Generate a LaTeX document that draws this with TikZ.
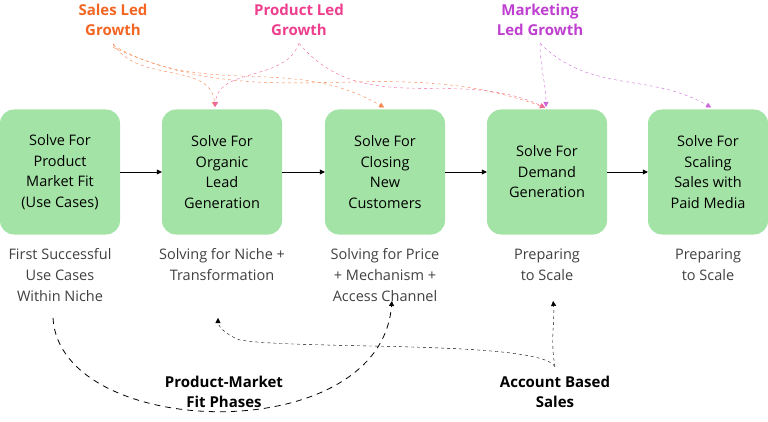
\documentclass[tikz,border=0pt]{standalone}
\usepackage{fontspec}
\setmainfont{Open Sans}
\usetikzlibrary{positioning, arrows.meta}
\definecolor{boxgreen}{HTML}{A4E3A6}
\definecolor{slgorange}{HTML}{F26522}
\definecolor{plgpink}{HTML}{EE3E8E}
\definecolor{mlgpurple}{HTML}{BF3FD0}
\tikzset{>={Triangle[length=5pt,width=5pt]}}
\begin{document}
\begin{tikzpicture}[x=1pt,y=-1pt,
    phase/.style={fill=boxgreen,rounded corners=14pt,minimum width=120pt,minimum height=125pt,align=center,font=\fontsize{14.5}{20.5}\selectfont},
    note/.style={align=center,text=black!75,font=\fontsize{14.5}{21}\selectfont},
    head/.style={align=center,font=\fontsize{15}{20}\selectfont\bfseries},
    link/.style={->,dashed,shorten >=1pt}]
\useasboundingbox (0,0) rectangle (768,422);
\node[phase] (b1) at (60,172) {Solve For\\Product\\Market Fit\\(Use Cases)};
\node[phase] (b2) at (222,172) {Solve For\\Organic\\Lead\\Generation};
\node[phase] (b3) at (385,172) {Solve For\\Closing\\New\\Customers};
\node[phase] (b4) at (547,172) {Solve For\\Demand\\Generation};
\node[phase] (b5) at (708,172) {Solve For\\Scaling\\Sales with\\Paid Media};
\foreach \a/\b in {b1/b2,b2/b3,b3/b4,b4/b5}
  \draw[->] (\a) -- (\b);
% descriptions
\node[note] (d1) at (60,275) {First Successful\\Use Cases\\Within Niche};
\node[note] (d2) at (222,265) {Solving for Niche +\\Transformation};
\node[note] (d3) at (385,275) {Solving for Price\\+ Mechanism +\\Access Channel};
\node[note] (d4) at (547,265) {Preparing\\to Scale};
\node[note] (d5) at (708,265) {Preparing\\to Scale};
% growth models
\node[head,text=slgorange] (slg) at (113,20) {Sales Led\\Growth};
\node[head,text=plgpink] (plg) at (299,20) {Product Led\\Growth};
\node[head,text=mlgpurple] (mlg) at (540,20) {Marketing\\Led Growth};
\coordinate (t2) at (215,108);
\coordinate (t3) at (385,108);
\coordinate (t4) at (546,108);
\coordinate (t5) at (712,108);
\begin{scope}[link,slgorange!80]
  \draw (slg.south) ++(0,4) to[out=-60,in=95] (t2);
  \draw (slg.south) ++(0,6) to[out=-30,in=150] (t3);
  \draw (slg.south) ++(0,8) to[out=-25,in=160] (t4);
\end{scope}
\begin{scope}[link,plgpink!80]
  \draw (plg.south) ++(0,4) to[out=-110,in=85] (t2);
  \draw (plg.south) ++(0,4) to[out=-50,in=155] (t4);
\end{scope}
\begin{scope}[link,mlgpurple!80]
  \draw (mlg.south) ++(0,4) to[out=-90,in=90] (t4);
  \draw (mlg.south) ++(0,4) to[out=-45,in=150] (t5);
\end{scope}
% bottom
\node[head] (pmf) at (224,392) {Product-Market\\Fit Phases};
\node[head] (abs) at (555,392) {Account Based\\Sales};
\coordinate (p1) at (53,318);
\coordinate (p3) at (392,300);
\coordinate (a2) at (218,317);
\coordinate (a4) at (553,300);
\draw[link,dash pattern=on 6pt off 5pt,thick] (p1) .. controls (60,440) and (380,450) .. (p3);
\draw[link] (abs.north) ++(0,-6) .. controls (540,340) and (300,350) .. (240,340) .. controls (225,335) and (218,325) .. (a2);
\draw[link] (abs.north) ++(0,-6) .. controls (550,340) and (555,320) .. (a4);
\end{tikzpicture}
\end{document}
